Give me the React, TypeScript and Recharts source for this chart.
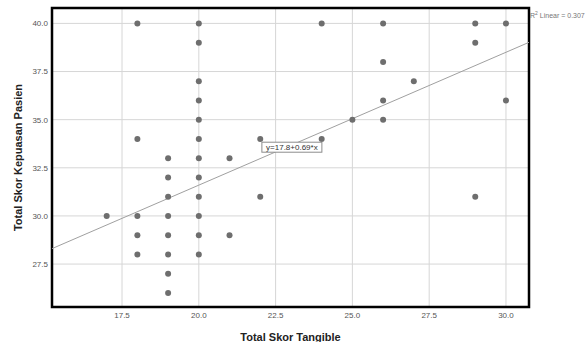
import {
  CartesianGrid,
  ReferenceArea,
  ReferenceDot,
  ReferenceLine,
  Scatter,
  ScatterChart,
  XAxis,
  YAxis,
} from "recharts"

const skorTangible = [
  17, 18, 18, 18, 18, 18, 19, 19, 19, 19, 19, 19, 19, 19, 20, 20, 20, 20, 20,
  20, 20, 20, 20, 20, 20, 20, 21, 21, 22, 22, 24, 24, 25, 26, 26, 26, 26, 27,
  29, 29, 29, 30, 30,
]
const skorKepuasan = [
  30, 40, 34, 30, 29, 28, 33, 32, 31, 30, 29, 28, 27, 26, 40, 39, 37, 36, 35,
  34, 33, 32, 31, 30, 29, 28, 33, 29, 34, 31, 40, 34, 35, 40, 38, 36, 35, 37,
  40, 39, 31, 40, 36,
]

const X_TICKS = [17.5, 20, 22.5, 25, 27.5, 30]
const Y_TICKS = [27.5, 30, 32.5, 35, 37.5, 40]
const X_DOMAIN: [number, number] = [15.22, 30.75]
const Y_DOMAIN: [number, number] = [25.27, 40.8]

const INTERCEPT = 17.8
const SLOPE = 0.69
const R2 = 0.307

const FONT = "'Liberation Sans', Arial, sans-serif"

const points = skorTangible.map((x, i) => ({ x, y: skorKepuasan[i] }))
const garis = X_DOMAIN.map((x) => ({ x, y: INTERCEPT + SLOPE * x }))

function EquationBox(props: { cx?: number; cy?: number }) {
  const cx = props.cx ?? 0
  const cy = props.cy ?? 0
  return (
    <g>
      <rect
        x={cx - 30}
        y={cy - 5}
        width={60}
        height={10}
        fill="#fff"
        stroke="#8c8c8c"
        strokeWidth={1}
      />
      <text
        x={cx}
        y={cy + 3}
        textAnchor="middle"
        fontSize={8}
        fontFamily={FONT}
        fill="#333"
      >
        {`y=${INTERCEPT}+${SLOPE}*x`}
      </text>
    </g>
  )
}

export default function App() {
  return (
    <div
      style={{
        position: "absolute",
        left: 0,
        top: 0,
        width: 587,
        height: 342,
        background: "#fff",
        overflow: "hidden",
        fontFamily: FONT,
      }}
    >
      <ScatterChart
        width={587}
        height={342}
        margin={{ top: 8, right: 58, bottom: 0, left: 0 }}
      >
        <CartesianGrid stroke="#d6d6d6" strokeWidth={1} />
        <XAxis
          type="number"
          dataKey="x"
          domain={X_DOMAIN}
          allowDataOverflow
          ticks={X_TICKS}
          tickFormatter={(v: number) => v.toFixed(1)}
          tick={{ fontSize: 8, fill: "#555", fontFamily: FONT }}
          tickLine={false}
          axisLine={false}
          tickSize={0}
          tickMargin={5}
          height={35}
          label={{
            value: "Total Skor Tangible",
            position: "insideBottom",
            offset: 1,
            fontSize: 11,
            fontWeight: "bold",
            fill: "#222",
            fontFamily: FONT,
          }}
        />
        <YAxis
          type="number"
          dataKey="y"
          domain={Y_DOMAIN}
          allowDataOverflow
          ticks={Y_TICKS}
          tickFormatter={(v: number) => v.toFixed(1)}
          tick={{ fontSize: 8, fill: "#555", fontFamily: FONT }}
          tickLine={false}
          axisLine={false}
          tickSize={0}
          tickMargin={4}
          width={52}
          label={{
            value: "Total Skor Kepuasan Pasien",
            angle: -90,
            position: "center",
            dx: -8,
            fontSize: 11,
            fontWeight: "bold",
            fill: "#222",
            fontFamily: FONT,
          }}
        />
        <ReferenceLine
          segment={garis}
          stroke="#a0a0a0"
          strokeWidth={1}
          ifOverflow="hidden"
        />
        <Scatter
          data={points}
          fill="#6e6e6e"
          isAnimationActive={false}
          shape={(p: { cx?: number; cy?: number }) => (
            <circle cx={p.cx} cy={p.cy} r={3} fill="#6e6e6e" />
          )}
        />
        <ReferenceDot
          x={23.03}
          y={33.57}
          r={0}
          ifOverflow="visible"
          shape={(p: { cx?: number; cy?: number }) => <EquationBox {...p} />}
        />
        <ReferenceArea
          x1={X_DOMAIN[0]}
          x2={X_DOMAIN[1]}
          y1={Y_DOMAIN[0]}
          y2={Y_DOMAIN[1]}
          fill="none"
          fillOpacity={0}
          stroke="#000"
          strokeWidth={2.5}
          strokeOpacity={1}
          ifOverflow="visible"
        />
      </ScatterChart>
      <div
        style={{
          position: "absolute",
          left: 530,
          top: 9,
          fontSize: 7,
          color: "#777",
          whiteSpace: "nowrap",
          lineHeight: "9px",
        }}
      >
        R<sup style={{ fontSize: 5 }}>2</sup> Linear = {R2}
      </div>
    </div>
  )
}
